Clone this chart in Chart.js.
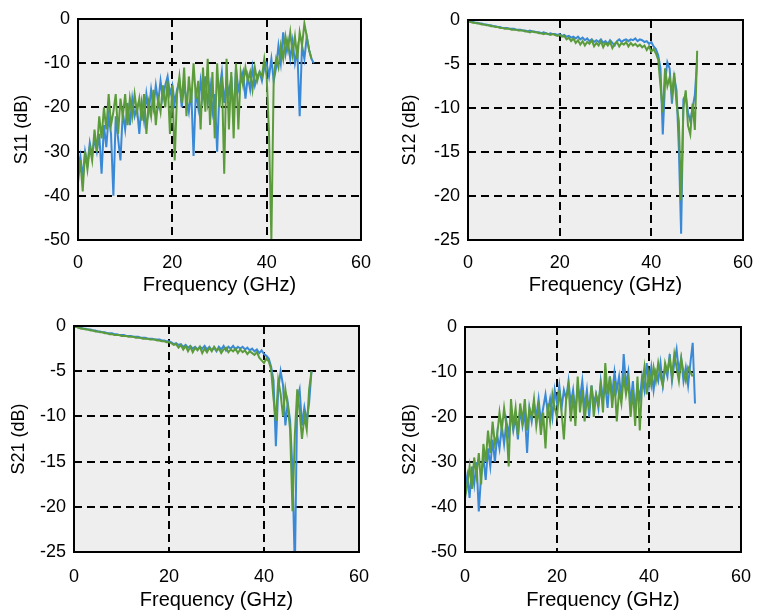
<!DOCTYPE html>
<html>
<head>
<meta charset="utf-8">
<script src="https://cdn.jsdelivr.net/npm/chart.js@4.4.0/dist/chart.umd.min.js"></script>
<style>
  body { margin: 0; background: #fff; }
  #wrap { position: relative; width: 765px; height: 614px; }
  #wrap canvas { position: absolute; }
</style>
</head>
<body>
<div id="wrap">
  <canvas id="s11"></canvas>
  <canvas id="s12"></canvas>
  <canvas id="s21"></canvas>
  <canvas id="s22"></canvas>
</div>
<script>
"use strict";

// sweep points (GHz)
const freq = [
  0, 0.5, 1, 1.5, 2, 2.5, 3, 3.5, 4, 4.5,
  5, 5.5, 6, 6.5, 7, 7.5, 8, 8.5, 9, 9.5,
  10, 10.5, 11, 11.5, 12, 12.5, 13, 13.5, 14, 14.5,
  15, 15.5, 16, 16.5, 17, 17.5, 18, 18.5, 19, 19.5,
  20, 20.5, 21, 21.5, 22, 22.5, 23, 23.5, 24, 24.5,
  25, 25.5, 26, 26.5, 27, 27.5, 28, 28.5, 29, 29.5,
  30, 30.5, 31, 31.5, 32, 32.5, 33, 33.5, 34, 34.5,
  35, 35.5, 36, 36.5, 37, 37.5, 38, 38.5, 39, 39.5,
  40, 40.5, 41, 41.5, 42, 42.5, 43, 43.5, 44, 44.5,
  45, 45.5, 46, 46.5, 47, 47.5, 48, 48.5, 49, 49.5,
  50
];

// S11 (dB)
const s11_blue = [
  -34, -31, -36, -30, -33, -28, -31, -27, -30, -26,
  -35, -24, -29, -22, -26, -40, -22, -27, -32, -21,
  -25, -19, -24, -18, -22, -20, -26, -19, -23, -17,
  -21, -16, -20, -15, -19, -14, -18, -15, -13, -17,
  -15, -19, -16, -14, -20, -15, -18, -21, -16, -31,
  -16, -20, -14, -18, -13, -19, -15, -21, -17, -30,
  -16, -12, -19, -14, -17, -13, -22, -11, -16, -14,
  -12, -18, -13, -16, -11, -15, -13, -12, -14, -11,
  -10, -13, -9, -14, -11, -6, -10, -3, -8, -5,
  -9, -5, -10, -7, -22, -6, -9, -4, -7, -9,
  -10
];
const s11_green = [
  -37, -32, -39, -30, -34, -29, -32, -25, -30, -22,
  -27, -20, -25, -17, -24, -21, -17, -26, -18, -22,
  -17, -24, -18, -22, -17, -21, -18, -23, -17, -26,
  -19, -22, -16, -24, -18, -21, -15, -20, -14, -26,
  -15, -32, -17, -13, -19, -11, -22, -13, -19, -10,
  -18, -14, -25, -11, -21, -9, -24, -12, -27, -10,
  -20, -13, -35, -9, -25, -12, -27, -10, -25, -12,
  -15, -11, -14, -12, -16, -11, -14, -12, -13, -9,
  -13, -26, -50, -13, -9, -11, -6, -9, -4, -7,
  -3, -8, -4, -9, -3, -6, -1, -4, -7, -9
];

// S12 (dB)
const s12_blue = [
  -0.1, -0.2, -0.2, -0.3, -0.3, -0.4, -0.4, -0.5, -0.5, -0.6,
  -0.6, -0.7, -0.7, -0.8, -0.8, -0.9, -0.9, -0.9, -1.0, -1.0,
  -1.0, -1.1, -1.1, -1.1, -1.2, -1.2, -1.3, -1.2, -1.3, -1.3,
  -1.4, -1.4, -1.5, -1.4, -1.5, -1.6, -1.5, -1.6, -1.6, -1.7,
  -1.6, -1.8, -1.7, -1.9, -1.8, -2.0, -1.9, -2.1, -1.9, -2.2,
  -2.0, -2.3, -2.1, -2.4, -2.2, -2.5, -2.3, -2.5, -2.2, -2.6,
  -2.4, -2.7, -2.3, -2.6, -2.9, -2.4, -2.2, -2.5, -2.3, -2.2,
  -2.4, -2.2, -2.3, -2.1, -2.4, -2.2, -2.3, -2.5, -2.4, -2.7,
  -2.5, -3.0, -3.3, -4.0, -5.5, -13.0, -7.0, -4.8, -5.5, -9.5,
  -6.5, -8.0, -14.5, -24.3, -9.0, -8.5, -10.5, -11.5, -10.0, -8.5,
  -4.5
];
const s12_green = [
  -0.1, -0.2, -0.3, -0.3, -0.4, -0.4, -0.5, -0.5, -0.6, -0.6,
  -0.7, -0.7, -0.8, -0.8, -0.9, -0.9, -1.0, -1.0, -1.0, -1.1,
  -1.1, -1.1, -1.2, -1.2, -1.2, -1.3, -1.3, -1.4, -1.3, -1.4,
  -1.4, -1.5, -1.5, -1.6, -1.5, -1.6, -1.7, -1.6, -1.7, -1.8,
  -1.7, -1.9, -1.8, -2.2, -2.0, -2.4, -2.1, -2.6, -2.3, -2.8,
  -2.4, -2.9, -2.5, -2.7, -2.3, -3.0, -2.6, -2.9, -2.4, -3.1,
  -2.6, -2.9, -2.5, -3.2, -2.7, -2.5, -3.0, -2.6, -2.8, -2.5,
  -3.0, -2.6, -2.9, -2.7, -3.0, -2.8, -3.1, -2.9, -3.4, -3.0,
  -3.6, -3.3, -3.8, -4.5, -7.5, -10.5, -5.5, -7.5, -6.5, -8.5,
  -6.0, -9.5, -11.5, -20.5, -10.0, -8.0, -12.0, -13.0, -9.5, -12.5,
  -3.5
];

// S21 (dB)
const s21_blue = [
  0, -0.1, -0.2, -0.2, -0.3, -0.3, -0.4, -0.4, -0.5, -0.5,
  -0.6, -0.6, -0.7, -0.7, -0.8, -0.8, -0.8, -0.9, -0.9, -1.0,
  -1.0, -1.0, -1.1, -1.1, -1.1, -1.2, -1.2, -1.2, -1.3, -1.3,
  -1.3, -1.4, -1.4, -1.4, -1.5, -1.5, -1.5, -1.6, -1.6, -1.7,
  -1.7, -1.8, -2.0, -1.9, -2.1, -2.0, -2.3, -2.1, -2.4, -2.2,
  -2.5, -2.3, -2.6, -2.3, -2.5, -2.2, -2.6, -2.3, -2.7, -2.4,
  -2.8, -2.3, -2.6, -2.2, -2.7, -2.3, -2.5, -2.2, -2.6, -2.3,
  -2.5, -2.3, -2.6, -2.4, -2.7, -2.5, -2.8, -2.6, -3.0, -2.7,
  -3.1, -3.3, -3.6, -4.5, -6.0, -13.3, -7.0, -5.0, -6.5, -11.0,
  -8.5, -10.5, -16.0, -27.0, -8.0, -7.0, -11.0, -9.0, -10.5, -8.5,
  -5.0
];
const s21_green = [
  -0.1, -0.1, -0.2, -0.3, -0.3, -0.4, -0.4, -0.5, -0.5, -0.6,
  -0.6, -0.7, -0.7, -0.8, -0.8, -0.9, -0.9, -1.0, -1.0, -1.0,
  -1.1, -1.1, -1.1, -1.2, -1.2, -1.2, -1.3, -1.3, -1.3, -1.4,
  -1.4, -1.4, -1.5, -1.5, -1.5, -1.6, -1.6, -1.7, -1.7, -1.8,
  -1.8, -1.9, -2.1, -2.0, -2.4, -2.1, -2.6, -2.2, -2.8, -2.3,
  -2.9, -2.4, -2.7, -2.3, -3.0, -2.5, -2.9, -2.4, -2.8, -2.3,
  -2.7, -2.5, -3.0, -2.6, -2.4, -2.9, -2.6, -2.8, -2.5, -3.0,
  -2.6, -2.9, -2.7, -3.1, -2.8, -3.0, -3.2, -2.9, -3.5, -3.8,
  -4.1, -3.6, -3.9, -4.8, -8.0, -10.5, -6.0, -7.5, -10.0, -7.0,
  -8.8, -11.5, -20.5, -12.0, -7.0, -9.5, -12.5, -10.0, -11.5, -7.0,
  -5.0
];

// S22 (dB)
const s22_blue = [
  -36, -33, -38, -31, -35, -30, -41, -33, -29, -34,
  -27, -31, -25, -30, -24, -27, -22, -26, -21, -24,
  -19, -23, -20, -25, -18, -22, -19, -28, -18, -21,
  -17, -20, -16, -21, -18, -15, -19, -16, -20, -14,
  -17, -13, -18, -14, -16, -12, -17, -14, -19, -13,
  -16, -12, -18, -14, -20, -13, -17, -15, -18, -12,
  -16, -13, -18, -11, -15, -10, -14, -11, -16, -6,
  -13, -10, -17, -12, -19, -13, -16, -11, -14, -8,
  -13, -9, -14, -10, -12, -8, -13, -9, -11, -6,
  -12, -8, -5, -10, -7, -12, -9, -13, -8, -3.5,
  -17
];
const s22_green = [
  -38, -35, -31, -36, -29, -33, -28, -35, -26, -30,
  -23, -28, -21, -26, -24, -19, -23, -18, -22, -31,
  -16, -22, -18, -24, -17, -21, -16, -23, -18, -20,
  -16, -22, -18, -24, -19, -27, -17, -21, -15, -18,
  -20, -14, -19, -25, -16, -13, -21, -15, -22, -11,
  -19, -14, -21, -16, -18, -13, -20, -15, -17, -13,
  -19, -8, -15, -11, -18, -12, -21, -14, -17, -11,
  -15, -12, -20, -14, -22, -11, -23, -13, -9, -15,
  -10, -13, -9, -12, -8, -11, -13, -8, -10, -7,
  -11, -6, -9, -12, -7, -10, -12, -9, -10, -11
];

const BLUE = "#3a89d6";
const GREEN = "#5b9b3b";
const PLOT_BG = "#eeeeee";
const FONT = "'Liberation Sans', Arial, sans-serif";

// grey plot background + black box around the axes
const plotFrame = {
  id: "plotFrame",
  beforeDraw(chart) {
    const a = chart.chartArea;
    const ctx = chart.ctx;
    ctx.save();
    ctx.fillStyle = PLOT_BG;
    ctx.fillRect(a.left, a.top, a.width, a.height);
    ctx.restore();
  },
  afterDraw(chart) {
    const a = chart.chartArea;
    const ctx = chart.ctx;
    ctx.save();
    ctx.strokeStyle = "#000";
    ctx.lineWidth = 2;
    ctx.strokeRect(a.left, a.top, a.width, a.height);
    ctx.restore();
  }
};

function toPoints(values) {
  return values.map(function (v, i) { return { x: freq[i], y: v }; });
}

// hide the grid line that sits on the frame
function gridColor(c) {
  if (c.index === 0 || c.index === c.scale.ticks.length - 1) return "rgba(0,0,0,0)";
  return "#000";
}

function drawPanel(id, box, yTitle, yMin, yStep, blue, green) {
  const canvas = document.getElementById(id);
  canvas.style.left = box.left + "px";
  canvas.style.top = box.top + "px";
  canvas.width = box.width;
  canvas.height = box.height;

  new Chart(canvas, {
    type: "line",
    data: {
      datasets: [
        { data: toPoints(blue), borderColor: BLUE, borderWidth: 2, pointRadius: 0, order: 2 },
        { data: toPoints(green), borderColor: GREEN, borderWidth: 2, pointRadius: 0, order: 1 }
      ]
    },
    options: {
      responsive: false,
      animation: false,
      layout: { padding: { left: 0, top: box.padTop, right: box.padRight, bottom: 0 } },
      plugins: { legend: { display: false }, tooltip: { enabled: false } },
      scales: {
        x: {
          type: "linear",
          min: 0,
          max: 60,
          ticks: { stepSize: 20, padding: box.xTickPad, color: "#000", font: { family: FONT, size: 18 } },
          grid: { drawTicks: false, color: gridColor, lineWidth: 2 },
          border: { display: false, dash: [8, 5] },
          title: {
            display: true,
            text: "Frequency (GHz)",
            color: "#000",
            font: { family: FONT, size: 20 },
            padding: { top: 0, bottom: box.xTitlePad }
          },
          afterFit: function (s) { s.height = box.xAxisH; }
        },
        y: {
          min: yMin,
          max: 0,
          ticks: { stepSize: yStep, padding: 8, color: "#000", font: { family: FONT, size: 18 } },
          grid: { drawTicks: false, color: gridColor, lineWidth: 2 },
          border: { display: false, dash: [8, 5] },
          title: {
            display: true,
            text: yTitle,
            color: "#000",
            font: { family: FONT, size: 18 },
            padding: { top: box.yTitlePad, bottom: 0 }
          },
          afterFit: function (s) { s.width = box.yAxisW; }
        }
      }
    },
    plugins: [plotFrame]
  });
}

drawPanel("s11", { left: 0, top: 0, width: 383, height: 300, yAxisW: 78, padTop: 19, padRight: 20, xAxisH: 60, xTickPad: 12, xTitlePad: 3, yTitlePad: 11 },
  "S11 (dB)", -50, 10, s11_blue, s11_green);
drawPanel("s12", { left: 383, top: 0, width: 382, height: 300, yAxisW: 85, padTop: 20, padRight: 10, xAxisH: 60, xTickPad: 12, xTitlePad: 3, yTitlePad: 16 },
  "S12 (dB)", -25, 5, s12_blue, s12_green);
drawPanel("s21", { left: 0, top: 300, width: 383, height: 314, yAxisW: 74, padTop: 26, padRight: 21, xAxisH: 62, xTickPad: 14, xTitlePad: 2, yTitlePad: 8 },
  "S21 (dB)", -25, 5, s21_blue, s21_green);
drawPanel("s22", { left: 383, top: 300, width: 382, height: 314, yAxisW: 82, padTop: 27, padRight: 12, xAxisH: 62, xTickPad: 14, xTitlePad: 2, yTitlePad: 16 },
  "S22 (dB)", -50, 10, s22_blue, s22_green);
</script>
</body>
</html>
